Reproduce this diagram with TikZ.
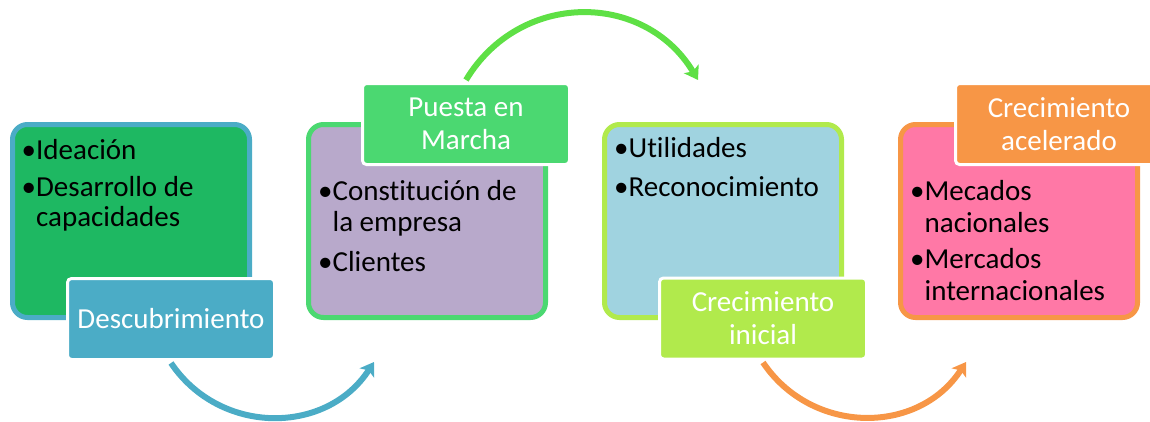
\documentclass[tikz,border=0pt]{standalone}
\usepackage{fontspec}
\setmainfont{Carlito}[Ligatures=NoCommon]
\usetikzlibrary{arrows.meta,positioning,calc}
\definecolor{azul}{HTML}{4BACC6}
\definecolor{verdeA}{HTML}{1EB862}
\definecolor{lila}{HTML}{B8A9CB}
\definecolor{verdeB}{HTML}{4BD871}
\definecolor{verdeC}{HTML}{5EE045}
\definecolor{celeste}{HTML}{A0D3E0}
\definecolor{lima}{HTML}{B1EA4C}
\definecolor{rosa}{HTML}{FF78A6}
\definecolor{naranja}{HTML}{F79646}
\tikzset{
  panel/.style={rounded corners=15pt, line width=5pt, minimum width=237pt,
    minimum height=193pt, inner sep=0pt},
  items/.style={align=left, inner sep=0pt, anchor=north west,
    font=\fontsize{29}{30.5}\selectfont},
  tag/.style={rounded corners=4pt, draw=white, line width=3pt, minimum width=207pt,
    minimum height=81pt, text=white, align=center, inner sep=0pt,
    font=\fontsize{29}{33}\selectfont},
  flecha/.style={line width=6pt, -{Stealth[length=13pt,width=17pt,inset=3pt]}}
}
\begin{document}
\begin{tikzpicture}[x=1pt, y=-1pt]
\clip (0,0) rectangle (1150,421);
% cajas
\node[panel, draw=azul, fill=verdeA] (box1) at (131,221) {};
\node[panel, draw=verdeB, fill=lila] (box2) at (427,221) {};
\node[panel, draw=lima, fill=celeste] (box3) at (723,221) {};
\node[panel, draw=naranja, fill=rosa] (box4) at (1019,221) {};
% textos
\node[items, below right=16pt and 11.5pt of box1.north west] (txt1)
  {\strut•Ideación\\[6pt]•Desarrollo de\\\phantom{•}capacidades};
\node[items, below right=57pt and 12pt of box2.north west] (txt2)
  {\strut•Constitución de\\\phantom{•}la empresa\\[10pt]•Clientes};
\node[items, below right=14pt and 12pt of box3.north west] (txt3)
  {\strut•Utilidades\\[8pt]•Reconocimiento};
\node[items, below right=56.5pt and 12pt of box4.north west] (txt4)
  {\strut•Mecados\\[1.5pt]\phantom{•}nacionales\\[6pt]•Mercados\\[1pt]\phantom{•}internacionales};
% etiquetas
\node[tag, fill=azul] (lab1) at ([shift={(40,98)}]box1.center) {Descubrimiento};
\node[tag, fill=verdeB] (lab2) at ([shift={(39,-97)}]box2.center) {Puesta en\\Marcha};
\node[tag, fill=lima] (lab3) at ([shift={(40,97.5)}]box3.center) {Crecimiento\\inicial};
\node[tag, fill=naranja] (lab4) at ([shift={(40,-97)}]box4.center) {Crecimiento\\acelerado};
% flechas
\draw[flecha, azul] ([yshift=-2pt]lab1.south) to[out=-56, in=-123, looseness=1.1]
  ($(box2.south west)+(68,42)$);
\draw[flecha, verdeC] ([yshift=2pt]lab2.north) to[out=59, in=121, looseness=1.15]
  ($(box3.north)+(-25,-42)$);
\draw[flecha, naranja] ([yshift=-2pt]lab3.south) to[out=-56, in=-123, looseness=1.1]
  ($(box4.south west)+(68,42)$);
\end{tikzpicture}
\end{document}
